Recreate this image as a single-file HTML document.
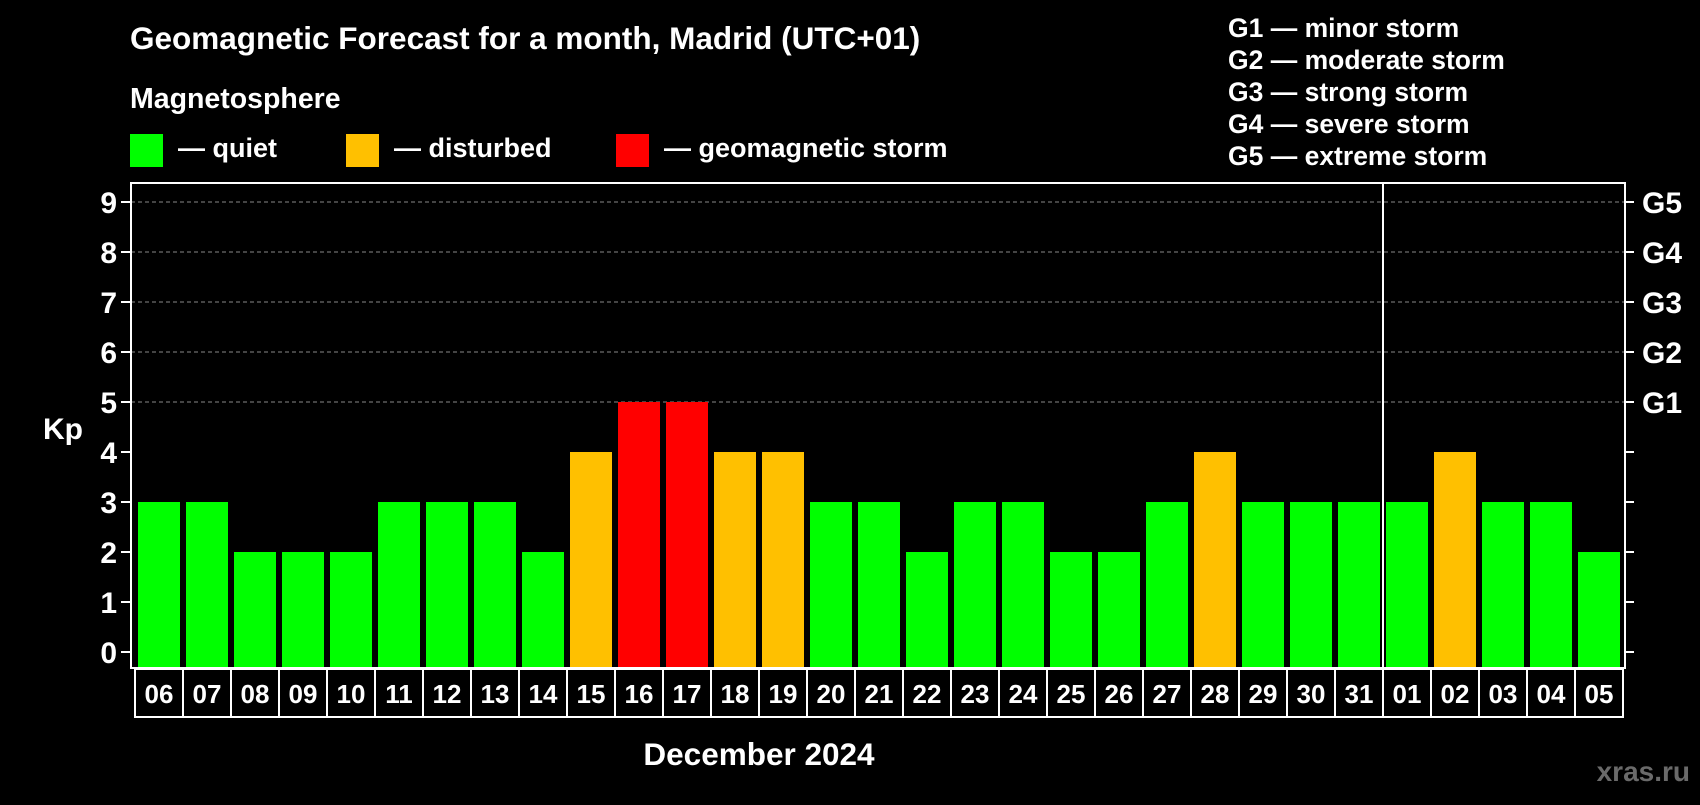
<!DOCTYPE html>
<html><head><meta charset="utf-8"><style>
body{margin:0;background:#000;width:1700px;height:800px;overflow:hidden}
svg text{font-family:"Liberation Sans",Arial,sans-serif;font-weight:bold;fill:#fff}
</style></head><body>
<svg id="chart" width="1700" height="800" xmlns="http://www.w3.org/2000/svg">
<rect width="1700" height="800" fill="#000"/>
<text x="130" y="49" font-size="31.5">Geomagnetic Forecast for a month, Madrid (UTC+01)</text>
<text x="130" y="108" font-size="28.5">Magnetosphere</text>
<g><rect x="130" y="134" width="33" height="33" fill="#00ff00"/><text x="178" y="157" font-size="27">— quiet</text></g>
<g><rect x="346" y="134" width="33" height="33" fill="#ffc000"/><text x="394" y="157" font-size="27">— disturbed</text></g>
<g><rect x="616" y="134" width="33" height="33" fill="#ff0000"/><text x="664" y="157" font-size="27">— geomagnetic storm</text></g>
<g font-size="26.5">
<text x="1228" y="37">G1 — minor storm</text>
<text x="1228" y="69">G2 — moderate storm</text>
<text x="1228" y="101">G3 — strong storm</text>
<text x="1228" y="133">G4 — severe storm</text>
<text x="1228" y="165">G5 — extreme storm</text>
</g>
<g id="grid"></g><g id="bars"></g><g id="axes"></g>
<text x="43" y="439" font-size="30">Kp</text>
<text x="759" y="765" font-size="31.5" text-anchor="middle">December 2024</text>
<text x="1690" y="781" font-size="28" text-anchor="end" style="fill:#6a6a6a">xras.ru</text>
</svg>
<script>
const days=["06","07","08","09","10","11","12","13","14","15","16","17","18","19","20","21","22","23","24","25","26","27","28","29","30","31","01","02","03","04","05"];
const kp=[3,3,2,2,2,3,3,3,2,4,5,5,4,4,3,3,2,3,3,2,2,3,4,3,3,3,3,4,3,3,2];
const yTicks=[0,1,2,3,4,5,6,7,8,9];
const gLabels=["G1","G2","G3","G4","G5"];
const NS="http://www.w3.org/2000/svg";
const L=131,R=1625,T=183,B=668,Y0=652,UNIT=50,PITCH=48,X0=138,BW=42;
const y=v=>Y0-v*UNIT;
const x=i=>X0+i*PITCH;
function mk(tag,attrs,parent){const e=document.createElementNS(NS,tag);for(const k in attrs)e.setAttribute(k,attrs[k]);parent.appendChild(e);return e;}
const grid=document.getElementById('grid'),bars=document.getElementById('bars'),axes=document.getElementById('axes');
for(let v=5;v<=9;v++){const l=mk('line',{x1:L,x2:R,y1:y(v),y2:y(v),stroke:'#888','stroke-dasharray':'4,3','stroke-width':1},grid);

}
kp.forEach((v,i)=>{const c=v>=5?'#ff0000':(v>=4?'#ffc000':'#00ff00');
const r=mk('rect',{x:x(i),y:y(v),width:BW,height:B-y(v),fill:c},bars);


const cell=mk('rect',{x:x(i)-3,y:669,width:PITCH,height:48,fill:'none',stroke:'#fff','stroke-width':2},axes);


const t=mk('text',{x:x(i)+BW/2,y:703,'font-size':26,'text-anchor':'middle'},axes);t.textContent=days[i];

});
const frame=mk('rect',{x:L,y:T,width:R-L,height:B-T,fill:'none',stroke:'#fff','stroke-width':2},axes);


const sepIdx=days.indexOf("01");
const sep=mk('line',{x1:x(sepIdx)-3,x2:x(sepIdx)-3,y1:T,y2:B,stroke:'#fff','stroke-width':2},axes);


yTicks.forEach(v=>{mk('line',{x1:121,x2:L,y1:y(v),y2:y(v),stroke:'#fff','stroke-width':2},axes);
mk('line',{x1:R,x2:1634,y1:y(v),y2:y(v),stroke:'#fff','stroke-width':2},axes);
const t=mk('text',{x:117,y:y(v)+11,'font-size':30,'text-anchor':'end'},axes);t.textContent=v;

});
gLabels.forEach((g,i)=>{const t=mk('text',{x:1642,y:y(5+i)+11,'font-size':30},axes);t.textContent=g;

});
</script>
</body></html>
